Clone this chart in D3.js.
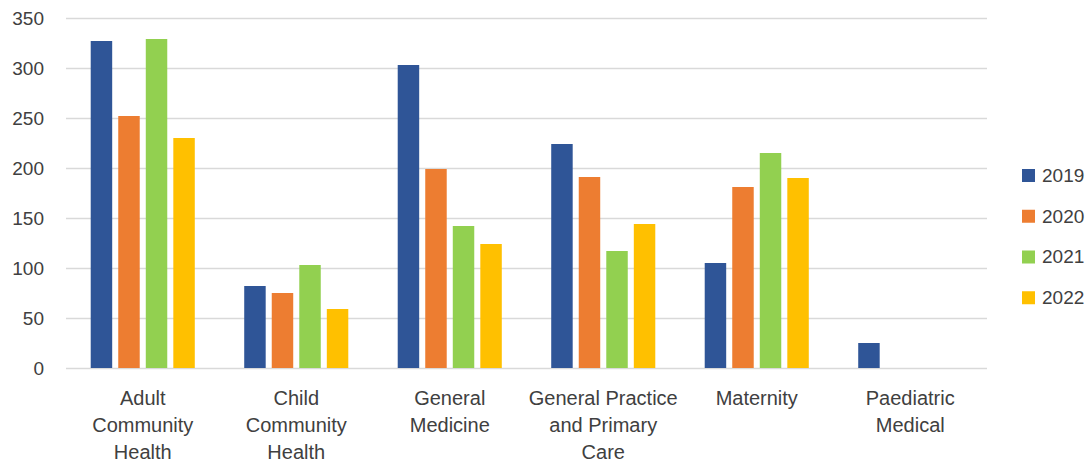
<!DOCTYPE html>
<html>
<head>
<meta charset="utf-8">
<script src="https://cdn.jsdelivr.net/npm/d3@7"></script>
<style>
  html, body { margin: 0; padding: 0; background: #fff; }
  svg { display: block; }
  text { font-family: "Liberation Sans", Arial, sans-serif; fill: #404040; }
</style>
</head>
<body>
<svg id="chart" width="1092" height="465"></svg>
<script>
// Categories (with line breaks for the axis labels)
const categories = [
  "Adult Community Health",
  "Child Community Health",
  "General Medicine",
  "General Practice and Primary Care",
  "Maternity",
  "Paediatric Medical"
];
const categoryLines = [
  ["Adult", "Community", "Health"],
  ["Child", "Community", "Health"],
  ["General", "Medicine"],
  ["General Practice", "and Primary", "Care"],
  ["Maternity"],
  ["Paediatric", "Medical"]
];
const years = ["2019", "2020", "2021", "2022"];
const values2019 = [327, 82, 303, 224, 105, 25];
const values2020 = [252, 75, 199, 191, 181, null];
const values2021 = [329, 103, 142, 117, 215, null];
const values2022 = [230, 59, 124, 144, 190, null];
const yTicks = [0, 50, 100, 150, 200, 250, 300, 350];
const colors = ["#2F5597", "#ED7D31", "#92D050", "#FFC000"];

const seriesValues = [values2019, values2020, values2021, values2022];
const rows = [];
categories.forEach((c, i) => {
  years.forEach((y, j) => {
    if (seriesValues[j][i] != null) rows.push({ category: c, year: y, value: seriesValues[j][i] });
  });
});

const svg = d3.select("#chart");
const plot = { left: 66, right: 987, top: 18, bottom: 368 };

const x = d3.scaleBand().domain(categories).range([plot.left, plot.right])
  .paddingInner(0.322).paddingOuter(0.161);
const xInner = d3.scaleBand().domain(years).range([0, x.bandwidth()])
  .paddingInner(0.22).paddingOuter(0);
const y = d3.scaleLinear().domain([0, 350]).range([plot.bottom, plot.top]);
const color = d3.scaleOrdinal().domain(years).range(colors);

// Horizontal gridlines
const yAxis = d3.axisLeft(y).tickValues(yTicks).tickSize(-(plot.right - plot.left)).tickPadding(22);
const gy = svg.append("g").attr("transform", `translate(${plot.left},0)`).call(yAxis);
gy.select(".domain").remove();
gy.selectAll(".tick line").attr("stroke", "#d9d9d9").attr("stroke-width", 1.5);
gy.selectAll(".tick text").style("font-size", "19px").attr("fill", "#404040").attr("dy", "0.36em");

// Bars
svg.append("g").selectAll("rect").data(rows).join("rect")
  .attr("x", d => x(d.category) + xInner(d.year))
  .attr("y", d => y(d.value))
  .attr("width", xInner.bandwidth())
  .attr("height", d => y(0) - y(d.value))
  .attr("fill", d => color(d.year));

// Category labels
const xAxis = d3.axisBottom(x).tickSize(0).tickFormat(() => "");
const gx = svg.append("g").attr("transform", `translate(0,${plot.bottom})`).call(xAxis);
gx.select(".domain").remove();
gx.selectAll(".tick").each(function (d, i) {
  const t = d3.select(this).append("text")
    .attr("text-anchor", "middle")
    .style("font-size", "20px")
    .attr("fill", "#404040");
  categoryLines[i].forEach((line, k) => {
    t.append("tspan").attr("x", 0).attr("y", 37 + k * 27).text(line);
  });
});

// Legend
const legend = svg.append("g").attr("transform", "translate(1022,175)");
const ly = d3.scaleBand().domain(years).range([0, 163]).paddingInner(0);
years.forEach((yr) => {
  const g = legend.append("g").attr("transform", `translate(0,${ly(yr)})`);
  g.append("rect").attr("x", 0).attr("y", -6).attr("width", 13).attr("height", 13).attr("fill", color(yr));
  g.append("text").attr("x", 20).attr("y", 0).attr("dy", "0.36em").style("font-size", "19px").text(yr);
});
</script>
</body>
</html>
